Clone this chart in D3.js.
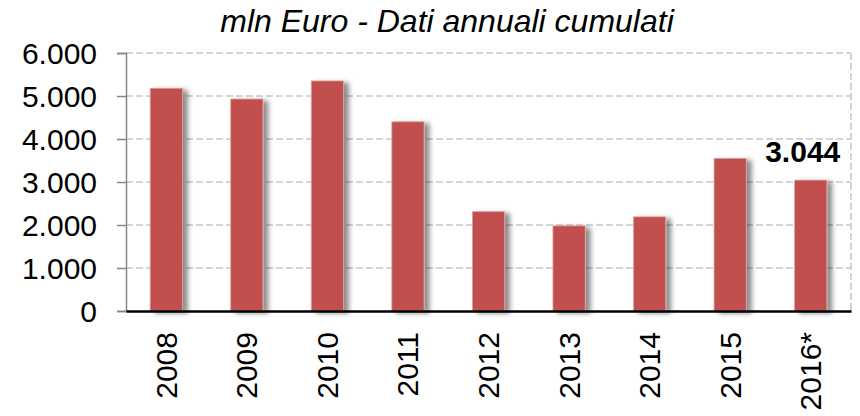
<!DOCTYPE html>
<meta charset="utf-8">
<style>
body { margin: 0; background: #fff; }
text { font-family: Arial, "Liberation Sans", sans-serif; fill: #000; }
.grid line { stroke: #c8c8c8; stroke-width: 1.6px; stroke-dasharray: 7,3; }
.bar { fill: #c0504d; stroke: #dca3a2; stroke-width: 0.8px; }
</style>
<svg width="860" height="416"></svg>
<script src="https://d3js.org/d3.v7.min.js"></script>
<script>

var years = ["2008", "2009", "2010", "2011", "2012", "2013", "2014", "2015", "2016*"];
var values = [5180, 4930, 5350, 4400, 2310, 1980, 2190, 3550, 3044];
var yTicks = [0, 1000, 2000, 3000, 4000, 5000, 6000];
var title = "mln Euro - Dati annuali cumulati";
var labelIndex = 8;

var svg = d3.select("svg"),
    margin = {top: 53, right: 9, bottom: 105, left: 126},
    width = 860 - margin.left - margin.right,
    height = 416 - margin.top - margin.bottom,
    g = svg.append("g").attr("transform", "translate(" + margin.left + "," + margin.top + ")");

// shadow to the right of bars
var defs = svg.append("defs");
var f = defs.append("filter").attr("id", "shadow")
    .attr("x", "-20%").attr("y", "-10%").attr("width", "160%").attr("height", "120%");
f.append("feDropShadow")
    .attr("dx", 5).attr("dy", 2).attr("stdDeviation", 2.5)
    .attr("flood-color", "#000").attr("flood-opacity", 0.45);

var x = d3.scaleBand().domain(years).range([0, width]).paddingInner(0.6).paddingOuter(0.3);
var y = d3.scaleLinear().domain([0, 6000]).range([height, 0]);

var fmt = function(d) { return d3.format(",")(d).replace(/,/g, "."); };

// gridlines
g.append("g")
    .attr("class", "grid")
  .selectAll("line")
  .data(yTicks.slice(1))
  .enter().append("line")
    .attr("x1", 0).attr("x2", width)
    .attr("y1", function(d) { return y(d); })
    .attr("y2", function(d) { return y(d); });

g.append("g").attr("class", "grid")
  .append("line")
    .attr("x1", width).attr("x2", width)
    .attr("y1", 0).attr("y2", height);

// bars
g.selectAll(".bar")
  .data(values)
  .enter().append("rect")
    .attr("class", "bar")
    .attr("filter", "url(#shadow)")
    .attr("x", function(d, i) { return x(years[i]); })
    .attr("width", x.bandwidth())
    .attr("y", function(d) { return y(d); })
    .attr("height", function(d) { return height - y(d); });

// y axis
var yAxis = g.append("g")
    .call(d3.axisLeft(y).tickValues(yTicks).tickSize(9).tickPadding(20).tickFormat(fmt));
yAxis.select(".domain").attr("stroke", "#868686").attr("stroke-width", 1.5);
yAxis.selectAll(".tick line").attr("stroke", "#868686").attr("stroke-width", 1.5);
yAxis.selectAll("text").style("font-size", "30px").attr("dy", "0.35em");

// x axis
var xAxis = g.append("g")
    .attr("transform", "translate(0," + height + ")")
    .call(d3.axisBottom(x).tickSize(0).tickPadding(0));
xAxis.select(".domain").attr("stroke", "#000").attr("stroke-width", 2.5);
xAxis.selectAll("text")
    .style("font-size", "30px")
    .style("text-anchor", "end")
    .attr("transform", "translate(0,21) rotate(-90)")
    .attr("x", 0).attr("y", 0)
    .attr("dy", "0.35em");

// value label
g.append("text")
    .attr("x", x(years[labelIndex]) + x.bandwidth() / 2 - 8)
    .attr("y", y(values[labelIndex]) - 18)
    .attr("text-anchor", "middle")
    .style("font-size", "30px")
    .style("font-weight", "bold")
    .text(fmt(values[labelIndex]));

// title
svg.append("text")
    .attr("x", 447)
    .attr("y", 32)
    .attr("text-anchor", "middle")
    .style("font-size", "32px")
    .style("font-style", "italic")
    .text(title);

</script>
